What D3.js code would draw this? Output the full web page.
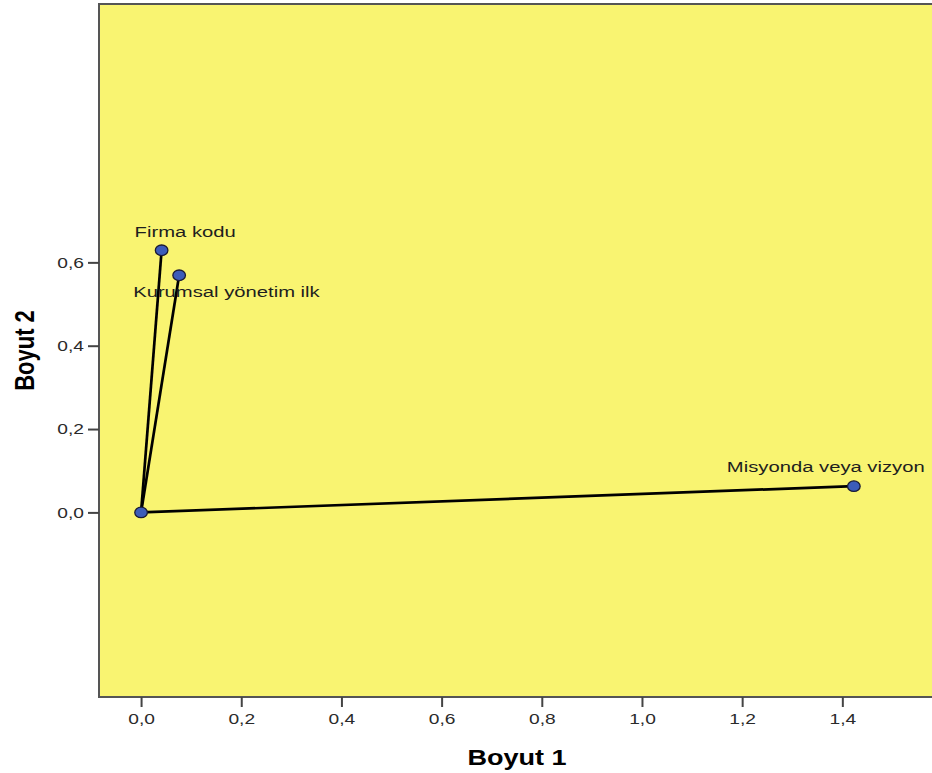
<!DOCTYPE html>
<meta charset="utf-8">
<style>
body { margin: 0; background: #fff; }
svg text { font-family: 'Liberation Sans', Arial, sans-serif; }
</style>
<body>
<div class="viz"></div>
<script src="https://cdn.jsdelivr.net/npm/d3@7"></script>
<script>
// loadings (Boyut 1, Boyut 2)
const variables = ["Firma kodu", "Kurumsal yönetim ilk", "Misyonda veya vizyon"];
const dim1 = [0.041, 0.076, 1.423];
const dim2 = [0.629, 0.569, 0.063];
const origin = [0, 0];

const xTicks = [0, 0.2, 0.4, 0.6, 0.8, 1.0, 1.2, 1.4];
const yTicks = [0, 0.2, 0.4, 0.6];
const xDomain = [-0.084, 1.585];
const yDomain = [-0.443, 1.22];

// label placement relative to each point (dx, dy)
const labelDx = [-27, -46, -127];
const labelDy = [-13, 22, -14];

const W = 932, H = 773;
const plot = {left: 99, top: 4, right: 935, bottom: 697};
const stretch = 1.28;   // the original is squeezed horizontally
const fill = "#f9f471";

const locale = d3.formatLocale({decimal: ",", thousands: ".", grouping: [3], currency: ["", ""]});
const fmt = locale.format(".1f");

const svg = d3.select(".viz").append("svg")
    .attr("width", W)
    .attr("height", H);

const x = d3.scaleLinear().domain(xDomain).range([plot.left, plot.right]);
const y = d3.scaleLinear().domain(yDomain).range([plot.bottom, plot.top]);

svg.append("rect")
    .attr("x", plot.left)
    .attr("y", plot.top)
    .attr("width", plot.right - plot.left)
    .attr("height", plot.bottom - plot.top)
    .attr("fill", fill);

// frame: top, left, bottom
svg.append("path")
    .attr("d", `M${plot.right},${plot.top}H${plot.left}V${plot.bottom}H${plot.right}`)
    .attr("fill", "none")
    .attr("stroke", "#555")
    .attr("stroke-width", 2);

const xAxis = svg.append("g")
    .attr("transform", "translate(0," + plot.bottom + ")")
    .call(d3.axisBottom(x).tickValues(xTicks).tickFormat(fmt).tickSize(10).tickSizeOuter(0));

const yAxis = svg.append("g")
    .attr("transform", "translate(" + plot.left + ",0)")
    .call(d3.axisLeft(y).tickValues(yTicks).tickFormat(fmt).tickSize(11).tickSizeOuter(0));

[xAxis, yAxis].forEach(function(a) {
  a.select(".domain").remove();
  a.selectAll(".tick line").attr("stroke", "#444").attr("stroke-width", 2);
  a.selectAll(".tick text")
    .style("font-size", "15px")
    .attr("fill", "#2a2a2a");
});
xAxis.selectAll(".tick text")
    .attr("y", 16)
    .attr("transform", `scale(${stretch},1)`);
yAxis.selectAll(".tick text")
    .attr("x", -15 / stretch)
    .attr("transform", `scale(${stretch},1)`);

// axis titles
svg.append("text")
    .attr("transform", `translate(${(plot.left + plot.right) / 2},765) scale(1.23,1)`)
    .style("text-anchor", "middle")
    .style("font-size", "22px")
    .style("font-weight", "bold")
    .text("Boyut 1");

svg.append("text")
    .attr("transform", `translate(34,${(plot.top + plot.bottom) / 2}) scale(1.23,1) rotate(-90)`)
    .style("text-anchor", "middle")
    .style("font-size", "22px")
    .style("font-weight", "bold")
    .text("Boyut 2");

const data = variables.map(function(v, i) {
  return {name: v, d1: dim1[i], d2: dim2[i], dx: labelDx[i], dy: labelDy[i]};
});

// vectors from the origin
svg.selectAll(".vec")
    .data(data)
    .enter()
    .append("line")
    .attr("class", "vec")
    .attr("x1", x(origin[0]))
    .attr("y1", y(origin[1]))
    .attr("x2", d => x(d.d1))
    .attr("y2", d => y(d.d2))
    .attr("stroke", "#000")
    .attr("stroke-width", 2.7);

const pts = data.map(d => [d.d1, d.d2]).concat([origin]);
svg.selectAll(".pt")
    .data(pts)
    .enter()
    .append("ellipse")
    .attr("class", "pt")
    .attr("cx", d => x(d[0]))
    .attr("cy", d => y(d[1]))
    .attr("rx", 6.3)
    .attr("ry", 5.3)
    .attr("fill", "#3c5cb9")
    .attr("stroke", "#1a1a35")
    .attr("stroke-width", 1.3);

svg.selectAll(".lbl")
    .data(data)
    .enter()
    .append("text")
    .attr("class", "lbl")
    .attr("transform", d => `translate(${x(d.d1) + d.dx},${y(d.d2) + d.dy}) scale(1.35,1)`)
    .style("font-size", "15px")
    .attr("fill", "#1e1e1e")
    .text(d => d.name);
</script>
</body>
